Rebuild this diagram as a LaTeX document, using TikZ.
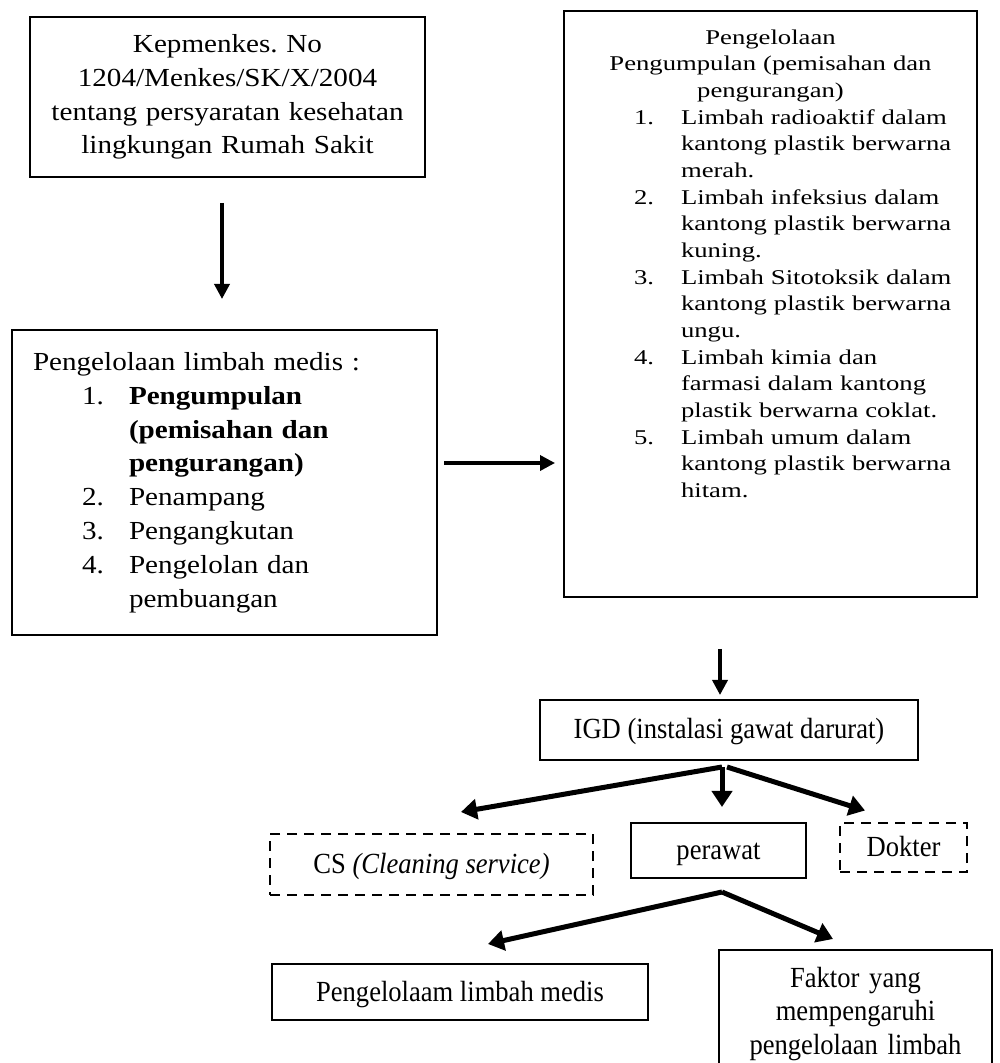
\documentclass[tikz,border=0pt]{standalone}
\usepackage{fontspec}
\setmainfont{Liberation Serif}
\newfontfamily\upperfont{Liberation Serif}[FakeStretch=1.12]
\newfontfamily\listfont{Liberation Serif}[FakeStretch=1.27]
\newfontfamily\lowerfont{Liberation Serif}[FakeStretch=0.91]
\usepackage{tikz}
\usetikzlibrary{arrows.meta}
\usetikzlibrary{positioning}
\frenchspacing
\newcommand{\numline}[2]{\hspace*{24.5pt}\makebox[23.5pt][l]{#1}#2}
\newcommand{\contline}[1]{\hspace*{48pt}#1}
\tikzset{
  box/.style = {rectangle, draw, line width = 1pt},
  dashbox/.style = {box, dash pattern = on 5pt off 3.5pt},
  arr/.style = {-{Triangle[length = 7.5pt, width = 7.5pt]}, line width = 1.75pt},
  thickarr/.style = {-{Triangle[length = 8pt, width = 10pt]}, line width = 2.5pt},
  upper/.style = {font = \upperfont\fontsize{13}{16.9}\selectfont},
  lower/.style = {font = \lowerfont\fontsize{14.6}{16.75}\selectfont},
  single/.style = {lower, text height = 9pt, text depth = 0pt},
}

\begin{document}
\begin{tikzpicture}
  \useasboundingbox (0pt,0pt) rectangle (499.5pt,-531.5pt);
  % nodes
  \node [box, upper, text width = 189.5pt, inner xsep = 4pt, minimum height = 80pt, align = center] (kep) at (113.75pt,-48.5pt)
    {Kepmenkes. No\\ 1204/Menkes/SK/X/2004\\ tentang persyaratan kesehatan\\ lingkungan Rumah Sakit};
  \node [box, upper, text width = 191.5pt, inner xsep = 10.5pt, minimum height = 152.5pt, align = left, below = 75.5pt of kep, xshift = -1.5pt] (medis)
    {Pengelolaan limbah medis :\\
     \numline{1.}{\textbf{Pengumpulan}}\\
     \contline{\textbf{(pemisahan dan}}\\
     \contline{\textbf{pengurangan)}}\\
     \numline{2.}{Penampang}\\
     \numline{3.}{Pengangkutan}\\
     \numline{4.}{Pengelolan dan}\\
     \contline{pembuangan}};
  \node [box, font = \listfont\fontsize{10.5}{13.33}\selectfont, text width = 185.5pt, inner xsep = 10.5pt, inner ysep = 9.3pt, align = left, anchor = north] (kumpul) at (385.25pt,-5pt)
    {\makebox[\linewidth]{Pengelolaan}\\
     \makebox[\linewidth]{Pengumpulan (pemisahan dan}\\
     \makebox[\linewidth]{pengurangan)}\\
     \numline{1.}{Limbah radioaktif dalam}\\
     \contline{kantong plastik berwarna}\\
     \contline{merah.}\\
     \numline{2.}{Limbah infeksius dalam}\\
     \contline{kantong plastik berwarna}\\
     \contline{kuning.}\\
     \numline{3.}{Limbah Sitotoksik dalam}\\
     \contline{kantong plastik berwarna}\\
     \contline{ungu.}\\
     \numline{4.}{Limbah kimia dan}\\
     \contline{farmasi dalam kantong}\\
     \contline{plastik berwarna coklat.}\\
     \numline{5.}{Limbah umum dalam}\\
     \contline{kantong plastik berwarna}\\
     \contline{hitam.}\rule[-40.5pt]{0pt}{0pt}};
  \node [box, single, minimum width = 189pt, minimum height = 30pt, below = 50.5pt of kumpul, xshift = -20.75pt] (igd) {IGD (instalasi gawat darurat)};
  \node [box, single, minimum width = 87.5pt, minimum height = 27.5pt, below = 30.5pt of igd, xshift = -5.25pt] (perawat) {perawat};
  \node [dashbox, single, minimum width = 161.5pt, minimum height = 30.5pt, left = 18pt of perawat, yshift = -7pt] (cs) {CS \textit{(Cleaning service)}};
  \node [dashbox, single, minimum width = 63.5pt, minimum height = 24.5pt, right = 16pt of perawat, yshift = 1.5pt] (dokter) {Dokter};
  \node [box, single, minimum width = 188pt, minimum height = 28pt, below = 42pt of perawat, xshift = -129.25pt] (limbah) {Pengelolaam limbah medis};
  \node [box, lower, text width = 136.5pt, inner xsep = 0pt, minimum height = 64pt, align = center, below = 35pt of perawat, xshift = 68.5pt] (faktor)
    {Faktor yang\\ mempengaruhi\\ pengelolaan limbah};
  \coordinate (kepout) at ([xshift = -2.75pt]kep.south);
  \coordinate (medisout) at ([yshift = 9.75pt]medis.east);
  \coordinate (igdin) at ([xshift = -4.5pt]igd.north);
  \coordinate (igdfork) at ([xshift = -3.5pt, yshift = -3pt]igd.south);
  \coordinate (perfork) at ([xshift = 1.75pt, yshift = -6.5pt]perawat.south);
  % edges
  \draw [arr, shorten <= 12.5pt, shorten >= 15pt] (kepout) -- (kepout |- medis.north);
  \draw [arr, shorten <= 3pt, shorten >= 4pt] (medisout) -- (medisout -| kumpul.west);
  \draw [arr, shorten <= 25.5pt, shorten >= 2pt] (igdin |- kumpul.south) -- (igdin);
  \draw [thickarr] (igdfork) -- ([xshift = 14.75pt, yshift = 10.5pt]cs.north);
  \draw [thickarr] (igdfork) -- ([xshift = 1.75pt, yshift = 7.5pt]perawat.north);
  \draw [thickarr] ([xshift = 2.5pt]igdfork) -- ([xshift = -19.25pt, yshift = 5.75pt]dokter.north);
  \draw [thickarr] (perfork) -- ([xshift = 14pt, yshift = 9.5pt]limbah.north);
  \draw [thickarr] (perfork) -- ([xshift = -11.25pt, yshift = 5pt]faktor.north);
\end{tikzpicture}
\end{document}
